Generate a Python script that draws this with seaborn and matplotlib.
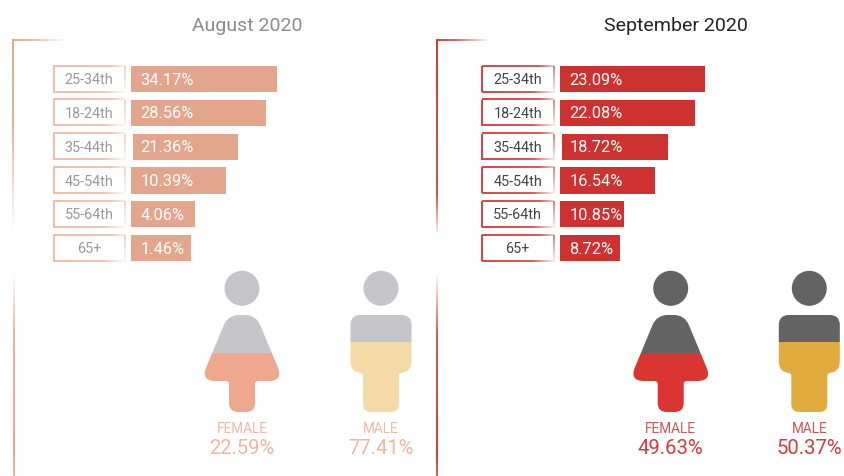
import numpy as np
import pandas as pd
import matplotlib
matplotlib.use("Agg")
import matplotlib.pyplot as plt
from matplotlib.colors import to_rgb
from matplotlib.patches import Circle, PathPatch, Rectangle
from matplotlib.path import Path
import seaborn as sns

age_groups = ["25-34th", "18-24th", "35-44th", "45-54th", "55-64th", "65+"]
aug_values = [34.17, 28.56, 21.36, 10.39, 4.06, 1.46]
sep_values = [23.09, 22.08, 18.72, 16.54, 10.85, 8.72]
# The drawn bar lengths are not proportional to the printed percentages
aug_lengths = [145.7, 135.3, 105.4, 94.7, 64.0, 60.3]
sep_lengths = [145.3, 135.3, 105.6, 94.6, 64.3, 60.3]
third_bar_shift = 2.0
gender_labels = ["FEMALE", "MALE"]
aug_gender = [22.59, 77.41]
sep_gender = [49.63, 50.37]

sns.set_theme(style="white")
plt.rcParams["font.family"] = ["Roboto", "DejaVu Sans"]

W, H = 845, 476
fig = plt.figure(figsize=(W / 100, H / 100), dpi=100, facecolor="white")

bg = fig.add_axes([0, 0, 1, 1], zorder=0)
fg = fig.add_axes([0, 0, 1, 1], zorder=5)
fg.patch.set_alpha(0)
for a in (bg, fg):
    a.set_xlim(0, W)
    a.set_ylim(H, 0)
    a.axis("off")


def rounded(points, radius):
    """Closed path through points with corners rounded by a per-corner radius."""
    pts = np.array(points, float)
    n = len(pts)
    verts, codes = [], []
    for i in range(n):
        p, a, b = pts[i], pts[i - 1], pts[(i + 1) % n]
        r = radius[i]
        u = (a - p) / np.linalg.norm(a - p)
        v = (b - p) / np.linalg.norm(b - p)
        verts.append(p + u * r)
        codes.append(Path.MOVETO if i == 0 else Path.LINETO)
        verts.extend([p, p + v * r])
        codes.extend([Path.CURVE3, Path.CURVE3])
    verts.append(verts[0])
    codes.append(Path.CLOSEPOLY)
    return Path(verts, codes)


def fade(ax, extent, color, direction, stops, alphas):
    n = 256
    ramp = np.interp(np.linspace(0, 1, n), stops, alphas)
    rgba = np.zeros((n, 1, 4)) if direction == "v" else np.zeros((1, n, 4))
    rgba[..., :3] = to_rgb(color)
    rgba[..., 3] = ramp.reshape(rgba.shape[:2])
    ax.imshow(rgba, extent=extent, aspect="auto", interpolation="bilinear", zorder=1)
    ax.set_xlim(0, W)
    ax.set_ylim(H, 0)


def panel(x0, values, lengths, genders, title, pal):
    # corner rule, then the lower rule that fades in
    fade(bg, (x0, x0 + 54, 41.3, 39.7), pal["rule"], "h", [0, 0.4, 1], [1, 0.75, 0])
    fade(bg, (x0 + 0.2, x0 + 2, 232, 40), pal["rule"], "v", [0, pal["hold"], 1], [1, 0.9, pal["upper_end"]])
    fade(bg, (x0 + 0.3, x0 + 1.9, 476, 272), pal["rule"], "v", [0, 0.3, 0.9, 1], [0, 0.85, 1, 0.8])

    fg.text(x0 + pal["title_x"], 26, title, color=pal["title"], fontsize=14.0,
            ha="center", va="center", zorder=6)

    # bars
    left = x0 + pal["bar_dx"]
    top, bottom = 62.2, 265.0
    ax = fig.add_axes([left / W, 1 - bottom / H, 170 / W, (bottom - top) / H], zorder=3)
    ax.patch.set_alpha(0)
    df = pd.DataFrame({"age": age_groups, "length": lengths, "value": values})
    sns.barplot(data=df, y="age", x="length", order=age_groups, color=pal["bar"],
                saturation=1, width=0.77, ax=ax)
    ax.set_xlim(0, 170)
    ax.set_ylim(5.5, -0.5)
    ax.axis("off")
    for i, patch in enumerate(ax.patches):
        patch.set_linewidth(0)
        if i == 2:
            patch.set_x(third_bar_shift)
            patch.set_width(lengths[i])
        ax.text(9.5, i + 0.03, f"{values[i]:.2f}%", color="white", fontsize=11.8,
                ha="left", va="center")

    # age label boxes
    for i, label in enumerate(age_groups):
        yc = top + (bottom - top) * (i + 0.5) / 6
        bx0, bx1 = x0 + pal["box_dx"], x0 + pal["box_dx"] + 71.5
        y0, y1 = yc - 13, yc + 13
        fade(bg, (bx0, bx1, y0 + 0.6, y0 - 0.6), pal["box"], "h", [0, 0.8, 1], [1, 0.9, 0.3])
        fade(bg, (bx0, bx1, y1 + 0.6, y1 - 0.6), pal["box"], "h", [0, 0.7, 1], [1, 0.9, 0.1])
        fade(bg, (bx0 - 0.6, bx0 + 0.6, y1, y0), pal["box"], "v", [0, 1], [1, 1])
        fade(bg, (bx1 - 0.6, bx1 + 0.6, y1, y0), pal["box"], "v", [0, 1], [0.7, 0.1])
        fg.text((bx0 + bx1) / 2, yc + 1, label, color=pal["age"], fontsize=10.4,
                ha="center", va="center")

    # female icon
    fx = x0 + pal["female_dx"]
    fg.add_patch(Circle((fx, 288.3), 17.5, color=pal["head"], lw=0, zorder=2))
    female = rounded([(fx - 14, 315), (fx + 14, 315), (fx + 41.5, 381), (fx + 13, 381), (fx + 13, 412),
                      (fx - 13, 412), (fx - 13, 381), (fx - 41.5, 381)],
                     [11, 11, 15, 3, 9, 9, 3, 15])
    for color, y0, y1 in ((pal["head"], 310, 353.3), (pal["skirt"], 353.3, 415)):
        p = PathPatch(female, fc=color, ec="none", lw=0, zorder=2)
        fg.add_patch(p)
        p.set_clip_path(Rectangle((fx - 50, y0), 100, y1 - y0, transform=fg.transData))

    # male icon
    mx = x0 + pal["male_dx"]
    fg.add_patch(Circle((mx, 288.3), 17.5, color=pal["head"], lw=0, zorder=2))
    male = rounded([(mx - 30.5, 315), (mx + 30.5, 315), (mx + 30.5, 373), (mx + 18, 373), (mx + 18, 412),
                    (mx - 18, 412), (mx - 18, 373), (mx - 30.5, 373)],
                   [10, 10, 12, 3, 8, 8, 3, 12])
    for color, y0, y1 in ((pal["head"], 310, 341.7), (pal["male"], 341.7, 415)):
        p = PathPatch(male, fc=color, ec="none", lw=0, zorder=2)
        fg.add_patch(p)
        p.set_clip_path(Rectangle((mx - 35, y0), 70, y1 - y0, transform=fg.transData))

    for xc, name, val in zip((fx, mx), gender_labels, genders):
        fg.text(xc, 429, name, color=pal["gender"], fontsize=9.8, ha="center", va="center")
        fg.text(xc, 448.5, f"{val:.2f}%", color=pal["pct"], fontsize=14.6, ha="center", va="center")


panel(12.3, aug_values, aug_lengths, aug_gender, "August 2020", dict(
    rule="#E9A78F", hold=0.45, upper_end=0.0, title="#8C8C8C", title_x=234.7, bar="#E3A68D",
    box="#EDBFAE", age="#9A9A9A", head="#C6C6CA", skirt="#EDA78E", male="#F3DAA7",
    gender="#F0B8A4", pct="#F0B5A0", female_dx=229.7, male_dx=368.7, bar_dx=118.7, box_dx=41))
panel(435.7, sep_values, sep_lengths, sep_gender, "September 2020", dict(
    rule="#D63A36", hold=0.8, upper_end=0.15, title="#232323", title_x=239.8, bar="#CE3230",
    box="#D9474A", age="#444444", head="#636363", skirt="#DA3530", male="#E2AB3F",
    gender="#CF5558", pct="#D8383E", female_dx=235, male_dx=373.6, bar_dx=124.3, box_dx=46.3))

fig.savefig("out.png", dpi=100)
